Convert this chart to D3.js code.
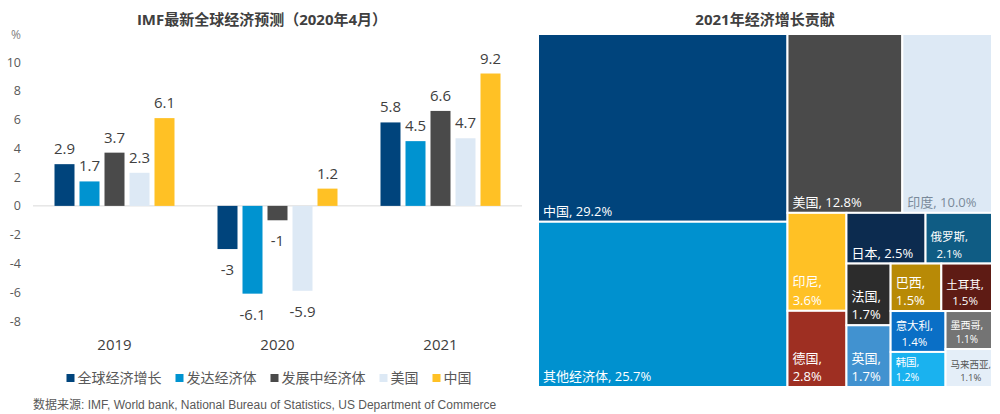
<!DOCTYPE html>
<html><head><meta charset="utf-8">
<script src="https://cdn.jsdelivr.net/npm/d3@7/dist/d3.min.js"></script>
<style>
html,body{margin:0;padding:0;background:#fff;}
svg{display:block;font-family:"Open Sans","Noto Sans CJK SC",sans-serif;}
</style></head>
<body>
<svg id="c" width="1000" height="414"></svg>
<script>
// ---------- data ----------
const years = ["2019", "2020", "2021"];
const seriesNames = ["全球经济增长", "发达经济体", "发展中经济体", "美国", "中国"];
const globalGrowth = [2.9, -3, 5.8];
const developed = [1.7, -6.1, 4.5];
const developing = [3.7, -1, 6.6];
const usGrowth = [2.3, -5.9, 4.7];
const chinaGrowth = [6.1, 1.2, 9.2];
const yTicks = [10, 8, 6, 4, 2, 0, -2, -4, -6, -8];

const tmNames = ["中国", "其他经济体", "美国", "印度", "印尼", "德国", "日本", "俄罗斯", "法国", "英国", "巴西", "土耳其", "意大利", "韩国", "墨西哥", "马来西亚"];
const tmValues = [29.2, 25.7, 12.8, 10.0, 3.6, 2.8, 2.5, 2.1, 1.7, 1.7, 1.5, 1.5, 1.4, 1.2, 1.1, 1.1];

// ---------- styles ----------
const seriesColors = ["#00447c", "#0093d0", "#4a4a4a", "#dde9f5", "#ffc125"];
const tmColors = {
  "中国": "#00447c", "其他经济体": "#0091cf", "美国": "#4a4a4a", "印度": "#dde9f5",
  "印尼": "#ffc125", "德国": "#9e2f22", "日本": "#0c2b4f", "俄罗斯": "#0f5c84",
  "法国": "#2c2c2c", "英国": "#4192d0", "巴西": "#b88a06", "土耳其": "#5e1b14",
  "意大利": "#0a6fc6", "韩国": "#1ab2ef", "墨西哥": "#747474", "马来西亚": "#e4eef8"
};
const tmTextColors = { "印度": "#7a8a9a", "马来西亚": "#555555" };
const tmFont = { "俄罗斯": 11.5, "土耳其": 11.5, "意大利": 11.5, "韩国": 10.5, "墨西哥": 10, "马来西亚": 9.5 };

const svg = d3.select("#c");
const seriesData = [globalGrowth, developed, developing, usGrowth, chinaGrowth];

// ---------- left: grouped bar chart ----------
const x0 = d3.scaleBand().domain(years).range([33, 522]);
const x1 = d3.scaleBand().domain(seriesNames).range([21.5, 141.5]).paddingInner(0.2);
const y = d3.scaleLinear().domain([-8, 10]).range([321, 62]);

svg.append("text").attr("x", 262).attr("y", 25).attr("text-anchor", "middle")
  .attr("font-size", 15).attr("font-weight", "bold").attr("fill", "#404040")
  .text("IMF最新全球经济预测（2020年4月）");

svg.append("text").attr("x", 21).attr("y", 39).attr("text-anchor", "end")
  .attr("font-size", 12).attr("fill", "#7f7f7f").text("%");

const yAxis = svg.append("g").attr("transform", "translate(24,0)")
  .call(d3.axisLeft(y).tickValues(yTicks).tickSize(0).tickPadding(3).tickFormat(d => String(d)));
yAxis.select(".domain").remove();
yAxis.selectAll("text").attr("font-size", 12.5).attr("fill", "#595959")
  .attr("font-family", "\"Open Sans\",\"Noto Sans CJK SC\",sans-serif");

svg.append("line").attr("x1", 33).attr("x2", 522).attr("y1", y(0)).attr("y2", y(0))
  .attr("stroke", "#d9d9d9").attr("stroke-width", 1);

years.forEach((yr, i) => {
  const g = svg.append("g").attr("transform", `translate(${x0(yr)},0)`);
  seriesNames.forEach((s, j) => {
    const v = seriesData[j][i];
    g.append("rect").attr("x", x1(s)).attr("width", x1.bandwidth())
      .attr("y", Math.min(y(v), y(0))).attr("height", Math.abs(y(v) - y(0)))
      .attr("fill", seriesColors[j]);
    g.append("text").attr("x", x1(s) + x1.bandwidth() / 2)
      .attr("y", v >= 0 ? y(v) - 10 : y(v) + 26)
      .attr("text-anchor", "middle").attr("font-size", 15).attr("fill", "#404040")
      .text(v);
  });
  svg.append("text").attr("x", x0(yr) + x0.bandwidth() / 2).attr("y", 350)
    .attr("text-anchor", "middle").attr("font-size", 15).attr("fill", "#404040").text(yr);
});

// legend
const legend = svg.append("g");
let lx = 0;
seriesNames.forEach((s, j) => {
  const it = legend.append("g").attr("transform", `translate(${lx},0)`);
  it.append("rect").attr("x", 0).attr("y", 374).attr("width", 8).attr("height", 8).attr("fill", seriesColors[j]);
  const t = it.append("text").attr("x", 11).attr("y", 383).attr("font-size", 14).attr("fill", "#595959").text(s);
  const w = t.node().getComputedTextLength();
  lx += 11 + w + 14;
});
const lw = lx - 14;
legend.attr("transform", `translate(${269 - lw / 2},0)`);

svg.append("text").attr("x", 33).attr("y", 409).attr("font-size", 12).attr("fill", "#595959")
  .attr("font-family", "\"Liberation Sans\",Arial,\"Noto Sans CJK SC\",sans-serif")
  .text("数据来源: IMF, World bank, National Bureau of Statistics, US Department of Commerce");

// ---------- right: treemap ----------
svg.append("text").attr("x", 765).attr("y", 25).attr("text-anchor", "middle")
  .attr("font-size", 15).attr("font-weight", "bold").attr("fill", "#404040")
  .text("2021年经济增长贡献");

const root = d3.hierarchy({ children: tmNames.map((n, i) => ({ name: n, value: tmValues[i] })) })
  .sum(d => d.value || 0);
d3.treemap().tile(d3.treemapSquarify.ratio(1)).size([454, 353])(root);

const tm = svg.append("g").attr("transform", "translate(538,34)");
root.leaves().forEach(d => {
  const name = d.data.name;
  const w = d.x1 - d.x0, h = d.y1 - d.y0;
  tm.append("rect").attr("x", d.x0).attr("y", d.y0).attr("width", w).attr("height", h)
    .attr("fill", tmColors[name]).attr("stroke", "#fff").attr("stroke-width", 2);
  const fs = tmFont[name] || 13;
  const color = tmTextColors[name] || "#ffffff";
  const full = `${name}, ${d.data.value.toFixed(1)}%`;
  const probe = tm.append("text").attr("font-size", fs).text(full);
  const fw = probe.node().getComputedTextLength();
  probe.remove();
  const lines = (fw + 10 <= w) ? [full] : [`${name},`, `${d.data.value.toFixed(1)}%`];
  const lh = fs * 1.42;
  let maxW = 0;
  const texts = lines.map((ln, k) => {
    const t = tm.append("text").attr("font-size", fs).attr("fill", color)
      .attr("y", d.y1 - 6 - (lines.length - 1 - k) * lh).text(ln);
    maxW = Math.max(maxW, t.node().getComputedTextLength());
    return t;
  });
  if (lines.length === 1) {
    texts[0].attr("x", d.x0 + 5);
  } else {
    texts.forEach(t => t.attr("x", d.x0 + 5 + maxW / 2).attr("text-anchor", "middle"));
  }
});
</script>
</body></html>
